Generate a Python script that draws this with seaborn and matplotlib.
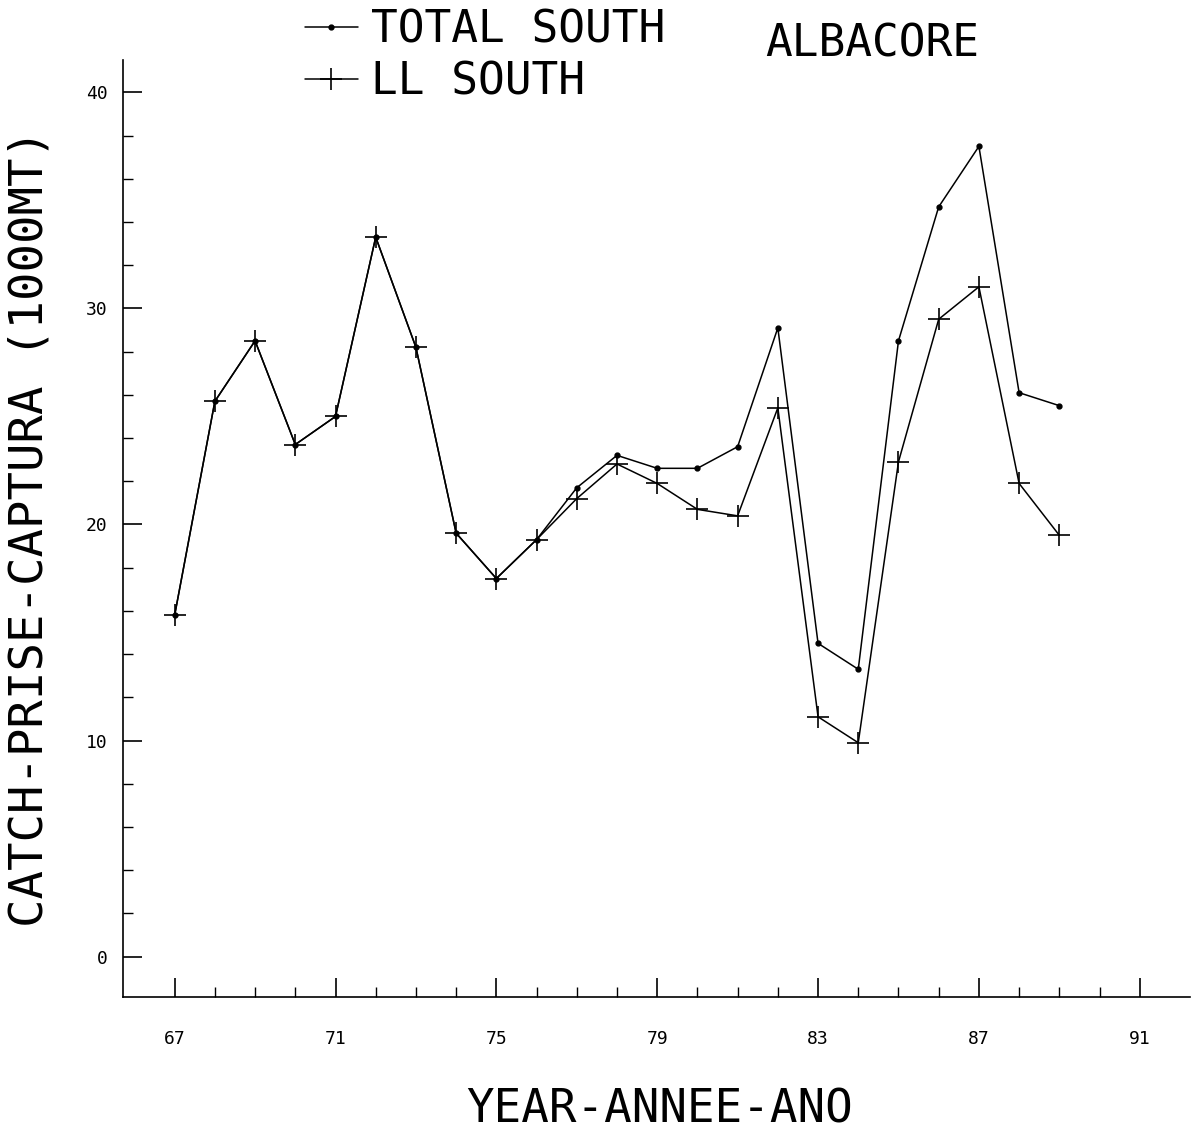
import numpy as np
import pandas as pd
import matplotlib
matplotlib.use("Agg")
import matplotlib.pyplot as plt
import seaborn as sns

years = list(range(1967, 1990))
total_south = [15.8, 25.7, 28.5, 23.7, 25.0, 33.3, 28.2, 19.6, 17.5, 19.3, 21.7, 23.2,
               22.6, 22.6, 23.6, 29.1, 14.5, 13.3, 28.5, 34.7, 37.5, 26.1, 25.5]
ll_south = [15.8, 25.7, 28.5, 23.7, 25.0, 33.3, 28.2, 19.6, 17.5, 19.3, 21.2, 22.8,
            21.9, 20.7, 20.4, 25.4, 11.1, 9.9, 22.9, 29.5, 31.0, 21.9, 19.5]
series_names = ["TOTAL SOUTH", "LL SOUTH"]
x_tick_labels = ["67", "71", "75", "79", "83", "87", "91"]
y_tick_labels = ["0", "10", "20", "30", "40"]

df = pd.DataFrame({
    "year": years * 2,
    "catch": total_south + ll_south,
    "series": [series_names[0]] * len(years) + [series_names[1]] * len(years),
})
df["yr"] = df["year"] - 1900

sns.set_theme(style="ticks")
plt.rcParams["font.family"] = ["DejaVu Sans Mono", "DejaVu Sans"]
plt.rcParams["text.color"] = "black"
plt.rcParams["axes.labelcolor"] = "black"
plt.rcParams["xtick.color"] = "black"
plt.rcParams["ytick.color"] = "black"

fig = plt.figure(figsize=(11.92, 11.39), dpi=100)
ax = fig.add_axes([0.103, 0.125, 0.895, 0.822])

sns.lineplot(data=df[df["series"] == series_names[0]], x="yr", y="catch",
             color="black", marker="o", markersize=3.5, markeredgewidth=1.0,
             markeredgecolor="black", markerfacecolor="black",
             linewidth=1.1, label=series_names[0], ax=ax)
sns.lineplot(data=df[df["series"] == series_names[1]], x="yr", y="catch",
             color="black", marker="+", markersize=16, markeredgewidth=1.2,
             markeredgecolor="black", markerfacecolor="black",
             linewidth=1.1, label=series_names[1], ax=ax)

ax.set_xlim(65.71, 92.24)
ax.set_ylim(-1.85, 41.48)
ax.set_xticks([int(t) for t in x_tick_labels])
ax.set_xticklabels(x_tick_labels, fontsize=13)
ax.set_xticks(np.arange(67, 92, 1), minor=True)
ax.set_yticks([int(t) for t in y_tick_labels])
ax.set_yticklabels(y_tick_labels, fontsize=13)
ax.set_yticks(np.arange(0, 41, 2), minor=True)
ax.tick_params(axis="both", which="major", direction="in", length=14, width=1.2, color="black", pad=24)
ax.tick_params(axis="both", which="minor", direction="in", length=7, width=1.0, color="black")
ax.tick_params(axis="y", which="major", pad=11)
for s in ["top", "right"]:
    ax.spines[s].set_visible(False)
for s in ["left", "bottom"]:
    ax.spines[s].set_color("black")
    ax.spines[s].set_linewidth(1.2)

ax.set_xlabel("YEAR-ANNEE-ANO", fontsize=33)
ax.xaxis.set_label_coords(0.503, -0.1215)
ax.xaxis.label.set_va("center")
ax.set_ylabel("CATCH-PRISE-CAPTURA (1000MT)", fontsize=34)
ax.yaxis.set_label_coords(-0.087, 0.50)
ax.yaxis.label.set_va("center")

sns.move_legend(ax, loc="upper left", bbox_to_anchor=(0.222, 1.028),
                bbox_transform=fig.transFigure, frameon=False, title=None,
                fontsize=32, handlelength=1.2, labelspacing=0.22, handletextpad=0.3)
fig.text(0.642, 0.961, "ALBACORE", fontsize=32, ha="left", va="center")

fig.savefig("out.png", dpi=100)
